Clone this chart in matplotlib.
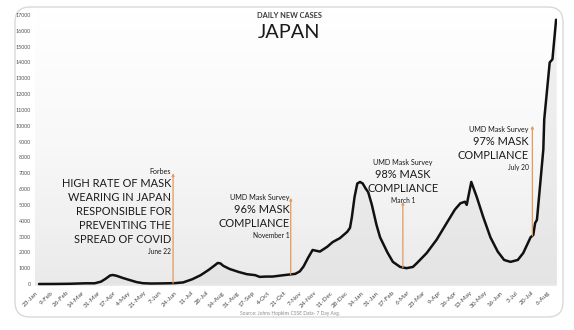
"""Japan daily new cases (7-day avg) with mask-compliance annotations."""

import matplotlib

matplotlib.use("Agg")

import matplotlib.dates as mdates
import matplotlib.pyplot as plt
import numpy as np
import pandas as pd
from matplotlib.colors import LinearSegmentedColormap
from matplotlib.patches import FancyBboxPatch

FONT = ["Lato", "DejaVu Sans"]
plt.rcParams["font.family"] = FONT

# 7-day average of daily new cases
CASE_DATES = [
    "2020-01-23", "2020-02-09", "2020-02-26", "2020-03-14", "2020-03-24",
    "2020-03-31", "2020-04-05", "2020-04-10", "2020-04-13", "2020-04-17",
    "2020-04-24", "2020-05-02", "2020-05-09", "2020-05-16", "2020-05-25",
    "2020-06-07", "2020-06-20", "2020-06-29", "2020-07-09", "2020-07-18",
    "2020-07-27", "2020-08-02", "2020-08-06", "2020-08-09", "2020-08-12",
    "2020-08-19", "2020-08-29", "2020-09-07", "2020-09-16", "2020-09-21",
    "2020-09-28", "2020-10-05", "2020-10-19", "2020-10-30", "2020-11-04",
    "2020-11-08", "2020-11-13", "2020-11-18", "2020-11-26", "2020-12-04",
    "2020-12-10", "2020-12-18", "2020-12-26", "2020-12-29", "2020-12-31",
    "2021-01-03", "2021-01-06", "2021-01-09", "2021-01-12", "2021-01-15",
    "2021-01-18", "2021-01-22", "2021-01-27", "2021-01-31", "2021-02-08",
    "2021-02-14", "2021-02-22", "2021-03-01", "2021-03-08", "2021-03-12",
    "2021-03-23", "2021-04-03", "2021-04-14", "2021-04-23", "2021-04-29",
    "2021-05-04", "2021-05-06", "2021-05-11", "2021-05-17", "2021-05-24",
    "2021-06-01", "2021-06-09", "2021-06-16", "2021-06-23", "2021-07-01",
    "2021-07-07", "2021-07-15", "2021-07-18", "2021-07-20", "2021-07-22",
    "2021-07-25", "2021-07-29", "2021-07-30", "2021-08-05", "2021-08-08",
    "2021-08-10", "2021-08-12",
]
CASE_VALUES = [
    0, 3, 15, 45, 45,
    150, 330, 540, 570, 520,
    380, 240, 120, 50, 30,
    40, 55, 100, 300, 550,
    890, 1150, 1330, 1300, 1150,
    950, 760, 620, 560, 450,
    470, 470, 570, 640, 800,
    1100, 1650, 2150, 2050, 2350,
    2650, 2900, 3300, 3550, 4200,
    5500, 6350, 6450, 6350, 6050,
    5800, 5000, 3750, 2950, 2000,
    1400, 1080, 1000, 1080, 1300,
    1950, 2800, 3850, 4700, 5100,
    5200, 5000, 6450, 5500, 4250,
    2950, 2050, 1520, 1400, 1520,
    1960, 2950, 3100, 3850, 4050,
    5950, 8500, 10400, 14000, 14200,
    15450, 16700,
]

TICK_LABELS = [
    "23-Jan", "9-Feb", "26-Feb", "14-Mar", "31-Mar", "17-Apr", "4-May",
    "21-May", "7-Jun", "24-Jun", "11-Jul", "28-Jul", "14-Aug", "31-Aug",
    "17-Sep", "4-Oct", "21-Oct", "7-Nov", "24-Nov", "11-Dec", "28-Dec",
    "14-Jan", "31-Jan", "17-Feb", "6-Mar", "23-Mar", "9-Apr", "26-Apr",
    "13-May", "30-May", "16-Jun", "3-Jul", "20-Jul", "6-Aug",
]
Y_TICKS = list(range(0, 17001, 1000))

# annotation markers: where the orange line sits and how high it reaches
ANN_DATES = ["2020-06-18", "2020-10-25", "2021-02-25", "2021-07-17"]
ANN_TOPS = [7000, 5450, 5200, 10000]
ANN_SOURCES = ["Forbes", "UMD Mask Survey", "UMD Mask Survey", "UMD Mask Survey"]
ANN_HEADLINES = [
    ["HIGH RATE OF MASK", "WEARING IN JAPAN", "RESPONSIBLE FOR",
     "PREVENTING THE", "SPREAD OF COVID"],
    ["96% MASK", "COMPLIANCE"],
    ["98% MASK", "COMPLIANCE"],
    ["97% MASK", "COMPLIANCE"],
]
ANN_LABELS = ["June 22", "November 1", "March 1", "July 20"]

ORANGE = "#e49a5c"
W, H = 574, 330


def draw_annotation(ax, date, top, bottom, source, headline, label, align, dx, dy):
    ax.annotate(
        "", xy=(date, top), xytext=(date, bottom),
        arrowprops=dict(arrowstyle="-|>", color=ORANGE, lw=0.9,
                        mutation_scale=3.5, shrinkA=0, shrinkB=0),
        zorder=4,
    )
    lines = [(source, "small")] + [(t, "big") for t in headline] + [(label, "date")]
    heights = {"small": 10, "big": 14, "date": 10}
    sizes = {"small": 5.1, "big": 7.9, "date": 4.8}
    y = dy
    prev = None
    for text, kind in lines:
        if prev is not None:
            y -= (heights[prev] + heights[kind]) / 2
        ax.annotate(
            text, xy=(date, top), xytext=(dx, y), textcoords="offset pixels",
            ha=align, va="center", fontsize=sizes[kind], color="#1a1a1a",
            zorder=5,
        )
        prev = kind


def main():
    fig = plt.figure(figsize=(W / 100, H / 100), dpi=100)
    fig.patch.set_facecolor("white")

    card = FancyBboxPatch(
        (0.15, 0.13), 5.48, 3.10,
        boxstyle="round,pad=0,rounding_size=0.15",
        transform=fig.dpi_scale_trans, facecolor="white",
        edgecolor="#d6dadd", linewidth=1.0, zorder=-5,
    )
    fig.patches.append(card)

    ax = fig.add_axes([35 / W, 44 / H, 522 / W, 276 / H])
    ax.set_zorder(2)
    ax.set_facecolor("none")

    grad = np.linspace(0, 1, 256).reshape(-1, 1)
    cmap = LinearSegmentedColormap.from_list("bg", ["#eaeaea", "#f8f8f8", "#ffffff"])
    ax.imshow(grad, extent=[0, 1, 0, 1], transform=ax.transAxes, cmap=cmap,
              origin="lower", aspect="auto", zorder=0)

    dates = pd.to_datetime(CASE_DATES)
    values = np.array(CASE_VALUES, dtype=float)
    nums = mdates.date2num(dates)

    ax.fill_between(dates, 0, values, color="#dcdcdc", alpha=0.4, lw=0, zorder=1)
    ax.plot(dates, values, color="#111111", lw=1.8, solid_joinstyle="round",
            solid_capstyle="round", zorder=3)

    start = mdates.date2num(pd.Timestamp("2020-01-23"))
    ax.set_xlim(start - 4.4, start + 568)
    ax.set_ylim(-126, 17316)

    tick_pos = pd.date_range("2020-01-23", periods=len(TICK_LABELS), freq="17D")
    ax.set_xticks(tick_pos)
    ax.set_xticklabels(TICK_LABELS, rotation=45, ha="right", fontsize=4.6,
                       color="#444444")
    ax.set_yticks(Y_TICKS)
    ax.set_yticklabels([str(v) for v in Y_TICKS], fontsize=3.9, color="#555555")
    ax.tick_params(axis="both", length=0)
    ax.tick_params(axis="x", pad=3)
    ax.tick_params(axis="y", pad=3)
    for spine in ax.spines.values():
        spine.set_visible(False)

    layout = [("right", -2, 2), ("right", -1, 0), ("center", 0, 39), ("right", -4, -4)]
    for i, d in enumerate(ANN_DATES):
        dn = mdates.date2num(pd.Timestamp(d))
        bottom = float(np.interp(dn, nums, values))
        align, dx, dy = layout[i]
        draw_annotation(ax, pd.Timestamp(d), ANN_TOPS[i], bottom, ANN_SOURCES[i],
                        ANN_HEADLINES[i], ANN_LABELS[i], align, dx, dy)

    fig.text(289 / W, 1 - 16 / H, "DAILY NEW CASES", ha="center", va="center",
             fontsize=5.3, fontweight="bold", color="#3a3a3a")
    fig.text(289 / W, 1 - 33 / H, "JAPAN", ha="center", va="center",
             fontsize=14.3, color="#1a1a1a")
    fig.text(290 / W, 1 - 313 / H, "Source: Johns Hopkins CSSE Data- 7 Day Avg.",
             ha="center", va="center", fontsize=3.5, color="#8a8a8a")

    fig.savefig("out.png", dpi=100)
    plt.close(fig)


if __name__ == "__main__":
    main()
